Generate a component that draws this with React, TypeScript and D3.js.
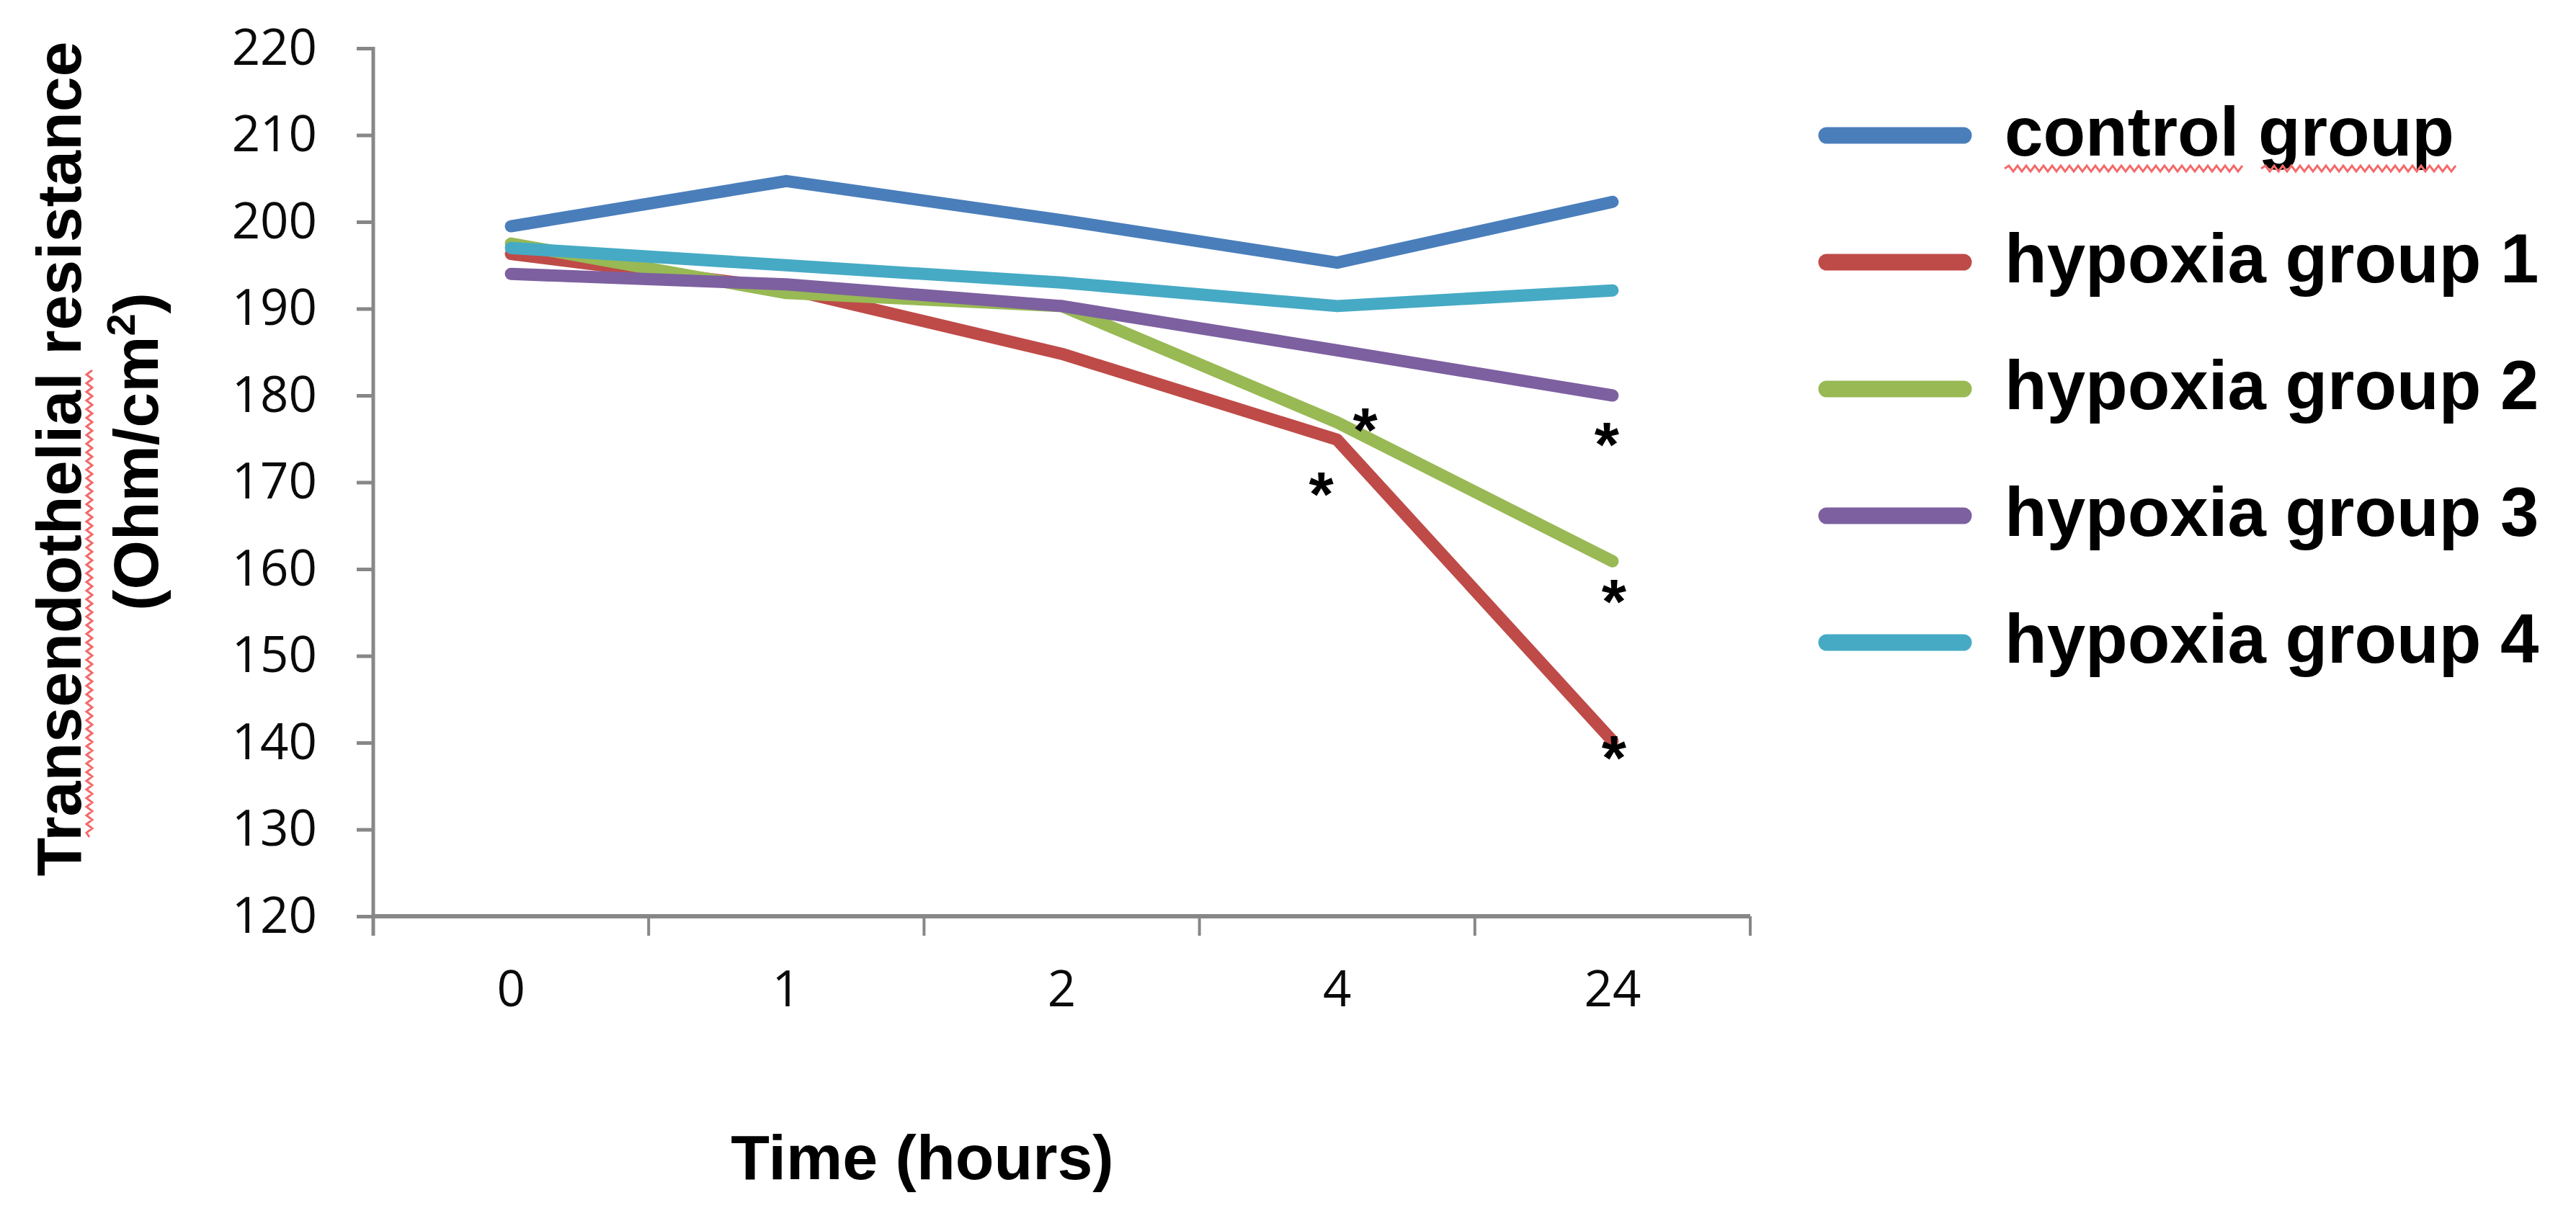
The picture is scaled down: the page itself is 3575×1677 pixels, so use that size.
import * as React from 'react';
import * as d3 from 'd3';

const HOURS = ['0', '1', '2', '4', '24'];
const Y_TICKS = [120, 130, 140, 150, 160, 170, 180, 190, 200, 210, 220];

const SERIES_NAMES = ['control group', 'hypoxia group 1', 'hypoxia group 2', 'hypoxia group 3', 'hypoxia group 4'];
const CONTROL = [199.5, 204.7, 200.2, 195.3, 202.3];
const HYPOXIA_1 = [196.3, 192.3, 184.8, 174.9, 140.2];
const HYPOXIA_2 = [197.5, 191.8, 190.3, 176.9, 160.9];
const HYPOXIA_3 = [194.0, 192.8, 190.3, 185.2, 180.0];
const HYPOXIA_4 = [197.0, 195.0, 193.0, 190.3, 192.1];

// significance marks: which series, at which hour
const STARS = [
    { series: 2, hour: '4' },
    { series: 1, hour: '4' },
    { series: 3, hour: '24' },
    { series: 2, hour: '24' },
    { series: 1, hour: '24' }
];

const COLORS = ['#4a7ebb', '#be4b48', '#98b954', '#7d60a0', '#46aac5'];

interface Pt {
    hour: string;
    v: number;
}

// spell-checker squiggle, horizontal from x0 to x1 at y
const squiggle = (x0: number, x1: number, y: number) => {
    const p = d3.path();
    const STEP = 6;
    p.moveTo(x0, y);
    let up = true;
    for (let x = x0 + STEP; x <= x1; x += STEP) {
        p.lineTo(x, y + (up ? -4 : 4));
        up = !up;
    }
    return p.toString();
};

const App: React.FC = () => {
    const svgRef = React.useRef<SVGSVGElement>(null);

    const render = () => {
        const W = 3575;
        const H = 1677;
        const svg = d3.select(svgRef.current);
        svg.selectAll('*').remove();
        svg.attr('width', W).attr('height', H);

        const TICK_FONT = "'Open Sans', sans-serif";
        const BOLD_FONT = "'Liberation Sans', Arial, sans-serif";
        const AXIS_COLOR = '#878787';
        const SQUIGGLE = '#f46a6a';

        /** ******** Scales ********* */
        const PLOT = { left: 518, right: 2429, top: 67, bottom: 1272 };
        const xScale = d3.scaleBand<string>().domain(HOURS).range([PLOT.left, PLOT.right]);
        const xMid = (h: string) => (xScale(h) as number) + xScale.bandwidth() / 2;
        const yScale = d3.scaleLinear().domain([120, 220]).range([PLOT.bottom, PLOT.top]);

        /** ******** Y axis ********* */
        const yAxis = d3
            .axisLeft(yScale)
            .tickValues(Y_TICKS)
            .tickFormat(d3.format('d'))
            .tickSize(23)
            .tickSizeOuter(0)
            .tickPadding(55);
        const yAxisDom = svg.append('g').attr('transform', `translate(${PLOT.left},0)`).call(yAxis);
        yAxisDom.select('.domain').remove();
        yAxisDom.selectAll('line').attr('stroke', AXIS_COLOR).attr('stroke-width', 5);
        yAxisDom
            .selectAll('text')
            .attr('font-family', TICK_FONT)
            .attr('font-size', 69)
            .attr('fill', '#0a0a0a');
        svg.append('line')
            .attr('x1', PLOT.left)
            .attr('x2', PLOT.left)
            .attr('y1', PLOT.top - 2)
            .attr('y2', PLOT.bottom + 27)
            .attr('stroke', AXIS_COLOR)
            .attr('stroke-width', 5);

        /** ******** X axis ********* */
        const bounds = HOURS.map(h => xScale(h) as number).concat([PLOT.right]);
        svg.append('line')
            .attr('x1', PLOT.left)
            .attr('x2', PLOT.right)
            .attr('y1', PLOT.bottom)
            .attr('y2', PLOT.bottom)
            .attr('stroke', AXIS_COLOR)
            .attr('stroke-width', 6);
        svg.append('g')
            .selectAll('line')
            .data(bounds)
            .enter()
            .append('line')
            .attr('x1', d => d)
            .attr('x2', d => d)
            .attr('y1', PLOT.bottom)
            .attr('y2', PLOT.bottom + 27)
            .attr('stroke', AXIS_COLOR)
            .attr('stroke-width', 4);
        const xAxis = d3.axisBottom(xScale).tickSize(0).tickPadding(76);
        const xAxisDom = svg.append('g').attr('transform', `translate(0,${PLOT.bottom})`).call(xAxis);
        xAxisDom.select('.domain').remove();
        xAxisDom
            .selectAll('text')
            .attr('font-family', TICK_FONT)
            .attr('font-size', 69)
            .attr('fill', '#0a0a0a');

        /** ******** Axis titles ********* */
        svg.append('text')
            .attr('x', 1280)
            .attr('y', 1637)
            .attr('text-anchor', 'middle')
            .attr('font-family', BOLD_FONT)
            .attr('font-weight', 'bold')
            .attr('font-size', 88)
            .attr('fill', '#000')
            .text('Time (hours)');

        const yTitle = svg
            .append('g')
            .attr('transform', 'rotate(-90)')
            .attr('font-family', BOLD_FONT)
            .attr('font-weight', 'bold')
            .attr('font-size', 88)
            .attr('fill', '#000')
            .attr('text-anchor', 'middle');
        yTitle.append('text').attr('x', -637).attr('y', 112).text('Transendothelial resistance');
        const t2 = yTitle.append('text').attr('x', -627).attr('y', 219);
        t2.append('tspan').text('(Ohm/cm');
        t2.append('tspan').attr('font-size', 56).attr('dy', -32).text('2');
        t2.append('tspan').attr('dy', 32).text(')');
        yTitle
            .append('path')
            .attr('d', squiggle(-1162, -509, 124))
            .attr('fill', 'none')
            .attr('stroke', SQUIGGLE)
            .attr('stroke-width', 3);

        /** ******** Lines ********* */
        const DATA = [CONTROL, HYPOXIA_1, HYPOXIA_2, HYPOXIA_3, HYPOXIA_4].map(vals =>
            vals.map((v, i) => ({ hour: HOURS[i], v }))
        );
        const getLine = d3
            .line<Pt>()
            .x(d => xMid(d.hour))
            .y(d => yScale(d.v));
        svg.append('g')
            .selectAll('path')
            .data(DATA)
            .enter()
            .append('path')
            .attr('d', d => getLine(d))
            .attr('fill', 'none')
            .attr('stroke', (_, i) => COLORS[i])
            .attr('stroke-width', 17)
            .attr('stroke-linecap', 'round')
            .attr('stroke-linejoin', 'round');

        /** ******** Stars ********* */
        const STAR_OFFSET = [
            [39, -10],
            [-22, 55],
            [-8, 47],
            [2, 35],
            [2, 2]
        ];
        svg.append('g')
            .selectAll('text')
            .data(STARS)
            .enter()
            .append('text')
            .attr('x', (d, i) => xMid(d.hour) + STAR_OFFSET[i][0])
            .attr('y', (d, i) => yScale(DATA[d.series][HOURS.indexOf(d.hour)].v) + STAR_OFFSET[i][1])
            .attr('dy', '0.58em')
            .attr('text-anchor', 'middle')
            .attr('font-family', BOLD_FONT)
            .attr('font-weight', 'bold')
            .attr('font-size', 88)
            .attr('fill', '#000')
            .text('*');

        /** ******** Legend ********* */
        const legend = svg
            .append('g')
            .selectAll('g')
            .data(SERIES_NAMES)
            .enter()
            .append('g')
            .attr('transform', (_, i) => `translate(2523,${188 + i * 176})`);
        legend
            .append('line')
            .attr('x1', 12)
            .attr('x2', 202)
            .attr('stroke', (_, i) => COLORS[i])
            .attr('stroke-width', 23)
            .attr('stroke-linecap', 'round');
        legend
            .append('text')
            .attr('x', 259)
            .attr('y', 28)
            .attr('font-family', BOLD_FONT)
            .attr('font-weight', 'bold')
            .attr('font-size', 96)
            .attr('fill', '#000')
            .text(d => d);
        // spell-check marks under the first legend entry
        [
            [2782, 3112],
            [3138, 3410]
        ].forEach(([a, b]) =>
            svg.append('path')
                .attr('d', squiggle(a, b, 234))
                .attr('fill', 'none')
                .attr('stroke', SQUIGGLE)
                .attr('stroke-width', 3)
        );
    };

    React.useEffect(render);

    return <svg ref={svgRef} style={{ position: 'absolute', left: 0, top: 0, background: '#fff' }} />;
};

export default App;
